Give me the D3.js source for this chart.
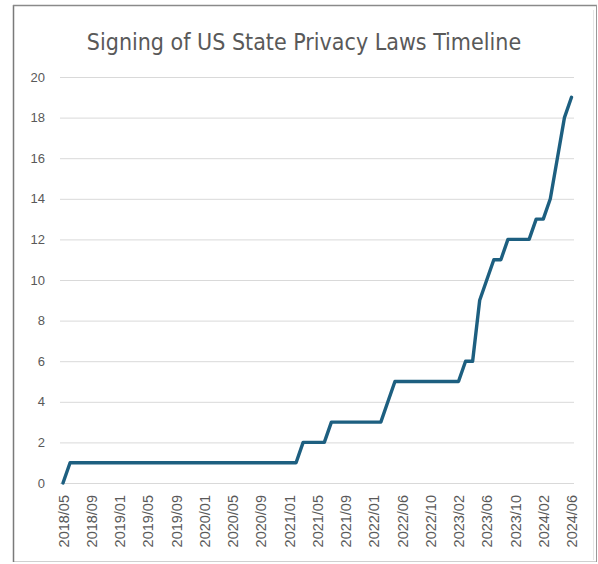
<!DOCTYPE html>
<html>
<head>
<meta charset="utf-8">
<script src="https://cdn.jsdelivr.net/npm/d3@7"></script>
<style>
  body { margin: 0; background: #fff; }
  svg { display: block; }
</style>
</head>
<body>
<svg id="chart" width="598" height="564"></svg>
<script>
// months on the category axis (2022/02 is not in the source sheet)
const months = [
  "2018/05","2018/06","2018/07","2018/08","2018/09","2018/10","2018/11","2018/12",
  "2019/01","2019/02","2019/03","2019/04","2019/05","2019/06","2019/07","2019/08",
  "2019/09","2019/10","2019/11","2019/12","2020/01","2020/02","2020/03","2020/04",
  "2020/05","2020/06","2020/07","2020/08","2020/09","2020/10","2020/11","2020/12",
  "2021/01","2021/02","2021/03","2021/04","2021/05","2021/06","2021/07","2021/08",
  "2021/09","2021/10","2021/11","2021/12","2022/01","2022/03","2022/04","2022/05",
  "2022/06","2022/07","2022/08","2022/09","2022/10","2022/11","2022/12","2023/01",
  "2023/02","2023/03","2023/04","2023/05","2023/06","2023/07","2023/08","2023/09",
  "2023/10","2023/11","2023/12","2024/01","2024/02","2024/03","2024/04","2024/05",
  "2024/06"
];

// cumulative number of signed laws per month
const lawsSigned = [
  0,1,1,1,1,1,1,1,
  1,1,1,1,1,1,1,1,
  1,1,1,1,1,1,1,1,
  1,1,1,1,1,1,1,1,
  1,1,2,2,2,2,3,3,
  3,3,3,3,3,3,4,5,
  5,5,5,5,5,5,5,5,
  5,6,6,9,10,11,11,12,
  12,12,12,13,13,14,16,18,
  19
];

const yTicks = [0,2,4,6,8,10,12,14,16,18,20];
const labelEvery = 4;

const svg = d3.select("#chart");

// outer frame
svg.append("rect")
  .attr("x", 13.5).attr("y", 5.5)
  .attr("width", 583).attr("height", 556)
  .attr("fill", "#fff")
  .attr("stroke", "#d0d0d0");
svg.append("line")
  .attr("x1", 13.5).attr("x2", 13.5).attr("y1", 5).attr("y2", 562)
  .attr("stroke", "#7a7a7a").attr("stroke-width", 1.5);
svg.append("line")
  .attr("x1", 13).attr("x2", 597).attr("y1", 5.5).attr("y2", 5.5)
  .attr("stroke", "#8a8a8a").attr("stroke-width", 1.5);
svg.append("line")
  .attr("x1", 596.5).attr("x2", 596.5).attr("y1", 5).attr("y2", 562)
  .attr("stroke", "#9a9a9a");
svg.append("line")
  .attr("x1", 593.5).attr("x2", 593.5).attr("y1", 10).attr("y2", 560)
  .attr("stroke", "#e6e6e6");

svg.append("text")
  .attr("x", 304)
  .attr("y", 50)
  .attr("text-anchor", "middle")
  .attr("font-family", "'Liberation Sans Narrow', 'DejaVu Sans Condensed', Roboto, sans-serif")
  .attr("font-size", 23)
  .attr("fill", "#595959")
  .text("Signing of US State Privacy Laws Timeline");

const x = d3.scalePoint()
  .domain(months)
  .range([63, 571.5]);

const y = d3.scaleLinear()
  .domain([0, 20])
  .range([483, 77]);

// gridlines
svg.append("g")
  .selectAll("line")
  .data(yTicks)
  .join("line")
  .attr("x1", 60).attr("x2", 574)
  .attr("y1", d => y(d) + 0.5).attr("y2", d => y(d) + 0.5)
  .attr("stroke", "#d9d9d9")
  .attr("stroke-width", 1);

// y labels
const yAxis = d3.axisLeft(y).tickValues(yTicks).tickSize(0).tickPadding(0);
svg.append("g")
  .attr("transform", "translate(45,0)")
  .call(yAxis)
  .call(g => g.select(".domain").remove())
  .selectAll("text")
  .attr("font-family", "'Liberation Sans', Arial, sans-serif")
  .attr("font-size", 13)
  .attr("fill", "#595959");

// x labels, every 4th month
const xAxis = d3.axisBottom(x)
  .tickValues(months.filter((m, i) => i % labelEvery === 0))
  .tickSize(0);
svg.append("g")
  .attr("transform", "translate(0,483)")
  .call(xAxis)
  .call(g => g.select(".domain").remove())
  .selectAll("text")
  .attr("font-family", "'Liberation Sans', Arial, sans-serif")
  .attr("font-size", 14.5)
  .attr("fill", "#595959")
  .attr("text-anchor", "end")
  .attr("transform", "rotate(-90)")
  .attr("x", -12)
  .attr("y", 0)
  .attr("dy", "0.35em");

const line = d3.line()
  .x((d, i) => x(months[i]))
  .y(d => y(d));

svg.append("path")
  .datum(lawsSigned)
  .attr("d", line)
  .attr("fill", "none")
  .attr("stroke", "#1d5f80")
  .attr("stroke-width", 3.4)
  .attr("stroke-linejoin", "round")
  .attr("stroke-linecap", "round");
</script>
</body>
</html>
